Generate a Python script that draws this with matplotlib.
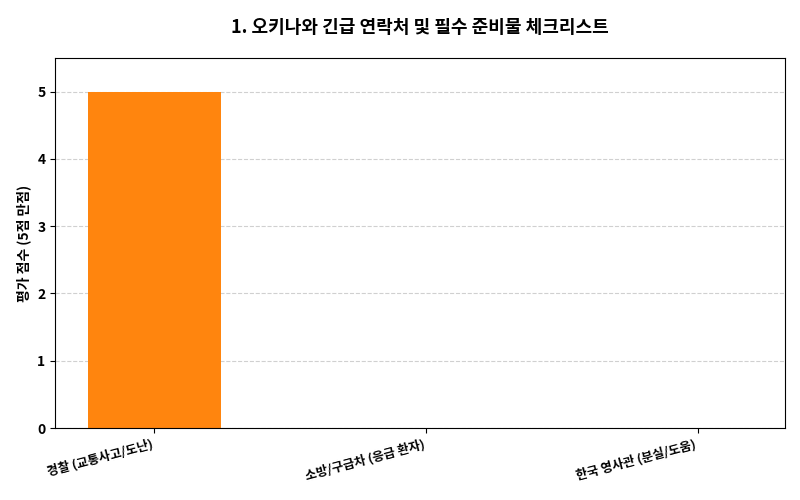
import matplotlib
matplotlib.use("Agg")
import matplotlib.pyplot as plt

plt.rcParams['font.family'] = ['Noto Sans CJK KR', 'DejaVu Sans']

categories = ["경찰 (교통사고/도난)", "소방/구급차 (응급 환자)", "한국 영사관 (분실/도움)"]
values = [5, 0, 0]

fig, ax = plt.subplots(figsize=(8, 5), dpi=100)
fig.subplots_adjust(left=0.069, right=0.981, top=0.884, bottom=0.144)
x = list(range(len(categories)))
ax.bar(x, values, width=0.49, color="#ff850e", zorder=2)
ax.set_xlim(-0.365, 2.32)
ax.set_ylim(0, 5.5)
ax.set_xticks(x)
ax.set_xticklabels(categories, rotation=15, ha="right", fontweight="bold", fontsize=9)
ax.tick_params(axis='y', labelsize=10)
for t in ax.get_yticklabels():
    t.set_fontweight("bold")
ax.set_ylabel("평가 점수 (5점 만점)", fontweight="bold", fontsize=10)
ax.set_title("1. 오키나와 긴급 연락처 및 필수 준비물 체크리스트", fontweight="bold", fontsize=13, pad=18)
ax.yaxis.grid(True, linestyle="--", color="#d0d0d0", linewidth=0.8, zorder=0)
ax.set_axisbelow(True)
fig.savefig("out.png")
